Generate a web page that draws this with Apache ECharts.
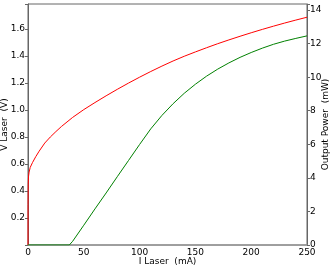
<!DOCTYPE html>
<html><head><meta charset="utf-8">
<script src="https://cdn.jsdelivr.net/npm/echarts@6/dist/echarts.min.js"></script>
<style>html,body{margin:0;padding:0;background:#fff}#c{width:334px;height:269px}</style>
</head><body><div id="c"></div>
<script>
const currentV = [0, 0.05, 0.2, 0.5, 1, 2, 4, 7, 10, 15, 20, 25, 30, 40, 50, 60, 70, 80, 90, 100, 110, 120, 130, 140, 150, 160, 170, 180, 190, 200, 210, 220, 230, 240, 250];
const voltage  = [0, 0.3, 0.45, 0.51, 0.54, 0.575, 0.61, 0.655, 0.695, 0.755, 0.80, 0.84, 0.878, 0.945, 1.003, 1.055, 1.105, 1.153, 1.199, 1.243, 1.285, 1.325, 1.363, 1.398, 1.43, 1.461, 1.491, 1.519, 1.546, 1.572, 1.597, 1.621, 1.644, 1.666, 1.687];
const currentP = [0, 37, 38, 40, 50, 60, 70, 80, 90, 100, 110, 120, 130, 140, 150, 160, 170, 180, 190, 200, 210, 220, 230, 240, 250];
const power    = [0, 0, 0.05, 0.22, 1.18, 2.15, 3.1, 4.07, 5.03, 5.99, 6.92, 7.72, 8.42, 9.04, 9.58, 10.06, 10.48, 10.85, 11.18, 11.47, 11.73, 11.96, 12.15, 12.31, 12.46];
const xTicks = [0, 50, 100, 150, 200, 250];

const font = 'DejaVu Sans';
const chart = echarts.init(document.getElementById('c'), null, {renderer: 'canvas'});
chart.setOption({
  animation: false,
  grid: {left: 28, right: 27, top: 4, bottom: 24, show: true, borderColor: '#666', borderWidth: 1, containLabel: false, outerBoundsMode: 'none'},
  xAxis: {
    type: 'value', min: 0, max: 250, interval: 50,
    name: 'I Laser  (mA)', nameLocation: 'middle', nameGap: 12, nameMoveOverlap: false,
    nameTextStyle: {fontFamily: font, fontSize: 9, color: '#000'},
    axisLine: {lineStyle: {color: '#999', width: 1.5}},
    axisTick: {show: false},
    axisLabel: {fontFamily: font, fontSize: 9, color: '#000', margin: 3,
      formatter: v => xTicks.includes(v) ? String(v) : ''},
    splitLine: {show: false}
  },
  yAxis: [{
    type: 'value', min: 0, max: 1.785, interval: 0.2, position: 'left',
    name: 'V Laser  (V)', nameLocation: 'middle', nameGap: 19, nameMoveOverlap: false,
    nameTextStyle: {fontFamily: font, fontSize: 9, color: '#000'},
    axisLine: {show: true, lineStyle: {color: '#666'}},
    axisTick: {show: true, length: 3, lineStyle: {color: '#666'}},
    axisLabel: {fontFamily: font, fontSize: 9, color: '#000', margin: 3,
      formatter: v => (v > 0.01 && Math.abs(v * 5 - Math.round(v * 5)) < 1e-6 && v < 1.7) ? v.toFixed(1) : ''},
    splitLine: {show: false}
  }, {
    type: 'value', min: 0, max: 14.36, interval: 2, position: 'right',
    name: 'Output Power  (mW)', nameLocation: 'middle', nameGap: 14, nameMoveOverlap: false,
    nameTextStyle: {fontFamily: font, fontSize: 9, color: '#000'},
    axisLine: {show: true, lineStyle: {color: '#666'}},
    axisTick: {show: true, length: 3, lineStyle: {color: '#666'}},
    axisLabel: {fontFamily: font, fontSize: 9, color: '#000', margin: 3,
      formatter: v => (Math.abs(v - Math.round(v)) < 1e-6 && v <= 14) ? String(Math.round(v)) : ''},
    splitLine: {show: false}
  }],
  series: [{
    type: 'line', yAxisIndex: 0, showSymbol: false, smooth: false,
    data: currentV.map((x, i) => [x, voltage[i]]),
    lineStyle: {color: '#ff0000', width: 1}, itemStyle: {color: '#ff0000'}
  }, {
    type: 'line', yAxisIndex: 1, showSymbol: false, smooth: false,
    data: currentP.map((x, i) => [x, power[i]]),
    lineStyle: {color: '#008000', width: 1}, itemStyle: {color: '#008000'}
  }]
});
</script></body></html>
